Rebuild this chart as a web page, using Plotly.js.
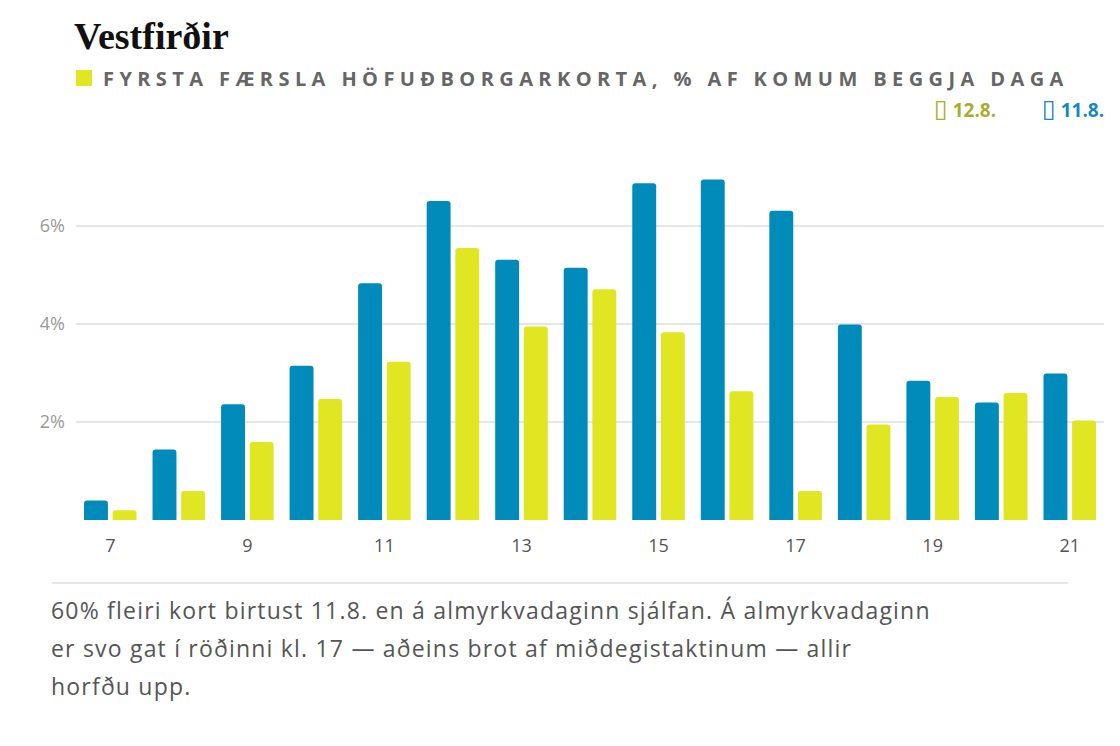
<!DOCTYPE html>
<html>
<head>
<meta charset="utf-8">
<script src="https://cdn.plot.ly/plotly-3.0.1.min.js"></script>
<style>
  body { margin: 0; background: #fff; }
  #graph { width: 1120px; height: 746px; }
  .annotation[data-index="0"] .annotation-text { letter-spacing: 5.4px; }
  .annotation[data-index="3"] .annotation-text,
  .annotation[data-index="4"] .annotation-text,
  .annotation[data-index="5"] .annotation-text { letter-spacing: 1.2px; }
</style>
</head>
<body>
<div id="graph"></div>
<script>
// hours of the day, share of first card transactions per hour (%)
var hours = [7, 8, 9, 10, 11, 12, 13, 14, 15, 16, 17, 18, 19, 20, 21];
var day11 = [0.40, 1.44, 2.36, 3.15, 4.83, 6.51, 5.31, 5.15, 6.87, 6.95, 6.31, 3.99, 2.84, 2.40, 2.99];
var day12 = [0.20, 0.59, 1.59, 2.47, 3.23, 5.55, 3.95, 4.71, 3.83, 2.63, 0.59, 1.95, 2.51, 2.59, 2.03];
var yTicks = [2, 4, 6];
var yTickText = ['2%', '4%', '6%'];

var W = 1120, H = 746;
var m = {l: 76, r: 16, t: 177, b: 226};

// pixel -> paper helpers for the decorations around the plot
function px(x) { return (x - m.l) / (W - m.l - m.r); }
function py(y) { return (H - m.b - y) / (H - m.t - m.b); }

var blue = '#008bba';
var yellow = '#e1e622';

var data = [
    {
        x: hours,
        y: day11,
        type: 'bar',
        name: '11.8.',
        marker: {color: blue, cornerradius: 3},
        hoverinfo: 'none'
    },
    {
        x: hours,
        y: day12,
        type: 'bar',
        name: '12.8.',
        marker: {color: yellow, cornerradius: 3},
        hoverinfo: 'none'
    }
];

var sans = '"Open Sans", Lato, sans-serif';
var box = '<span style="font-family:\'DejaVu Sans\';font-weight:400;font-size:25px">▯</span>';

var notes = [
    '60% fleiri kort birtust 11.8. en á almyrkvadaginn sjálfan. Á almyrkvadaginn',
    'er svo gat í röðinni kl. 17 — aðeins brot af miðdegistaktinum — allir',
    'horfðu upp.'
];
var noteY = [610, 648, 686];

var annotations = [
    {
        text: 'FYRSTA FÆRSLA HÖFUÐBORGARKORTA, % AF KOMUM BEGGJA DAGA',
        xref: 'paper', yref: 'paper',
        x: px(101), y: py(79), xanchor: 'left', yanchor: 'middle', align: 'left',
        showarrow: false,
        font: {family: sans, size: 20, color: '#666666', weight: 700}
    },
    {
        text: box + ' 12.8.',
        xref: 'paper', yref: 'paper',
        x: px(932), y: py(108), xanchor: 'left', yanchor: 'middle',
        showarrow: false,
        font: {family: sans, size: 19, color: '#a9ad2b', weight: 700}
    },
    {
        text: box + ' 11.8.',
        xref: 'paper', yref: 'paper',
        x: px(1040), y: py(108), xanchor: 'left', yanchor: 'middle',
        showarrow: false,
        font: {family: sans, size: 19, color: '#1788bd', weight: 700}
    }
];

notes.forEach(function(line, i) {
    annotations.push({
        text: line,
        xref: 'paper', yref: 'paper',
        x: px(49), y: py(noteY[i]), xanchor: 'left', yanchor: 'middle', align: 'left',
        showarrow: false,
        font: {family: sans, size: 23, color: '#555555'}
    });
});

var layout = {
    width: W,
    height: H,
    margin: m,
    paper_bgcolor: '#fff',
    plot_bgcolor: '#fff',
    showlegend: false,
    bargap: 0.165,
    bargroupgap: 0.164,
    title: {
        text: 'Vestfirðir',
        xref: 'container', yref: 'container',
        x: 74 / W, xanchor: 'left',
        y: 1 - 36 / H, yanchor: 'middle',
        font: {family: '"Liberation Serif", serif', size: 38, color: '#111111', weight: 700}
    },
    xaxis: {
        range: [6.5, 21.5],
        tickmode: 'linear',
        tick0: 7,
        dtick: 2,
        showgrid: false,
        zeroline: false,
        showline: false,
        ticks: '',
        ticklabelstandoff: 13,
        tickfont: {family: sans, size: 18, color: '#555555'},
        fixedrange: true
    },
    yaxis: {
        range: [0, 7],
        tickvals: yTicks,
        ticktext: yTickText,
        showgrid: true,
        gridcolor: '#e6e6e6',
        gridwidth: 2,
        zeroline: false,
        showline: false,
        ticks: '',
        ticklabelstandoff: 10,
        tickfont: {family: sans, size: 18, color: '#999999'},
        fixedrange: true
    },
    shapes: [
        {
            type: 'rect', xref: 'paper', yref: 'paper',
            x0: px(76), x1: px(92), y0: py(86), y1: py(70),
            fillcolor: yellow, line: {width: 0}
        },
        {
            type: 'line', xref: 'paper', yref: 'paper',
            x0: px(52), x1: px(1068), y0: py(583), y1: py(583),
            line: {color: '#e6e6e6', width: 2}
        }
    ],
    annotations: annotations
};

Plotly.newPlot('graph', data, layout, {displayModeBar: false, staticPlot: true});
</script>
</body>
</html>
